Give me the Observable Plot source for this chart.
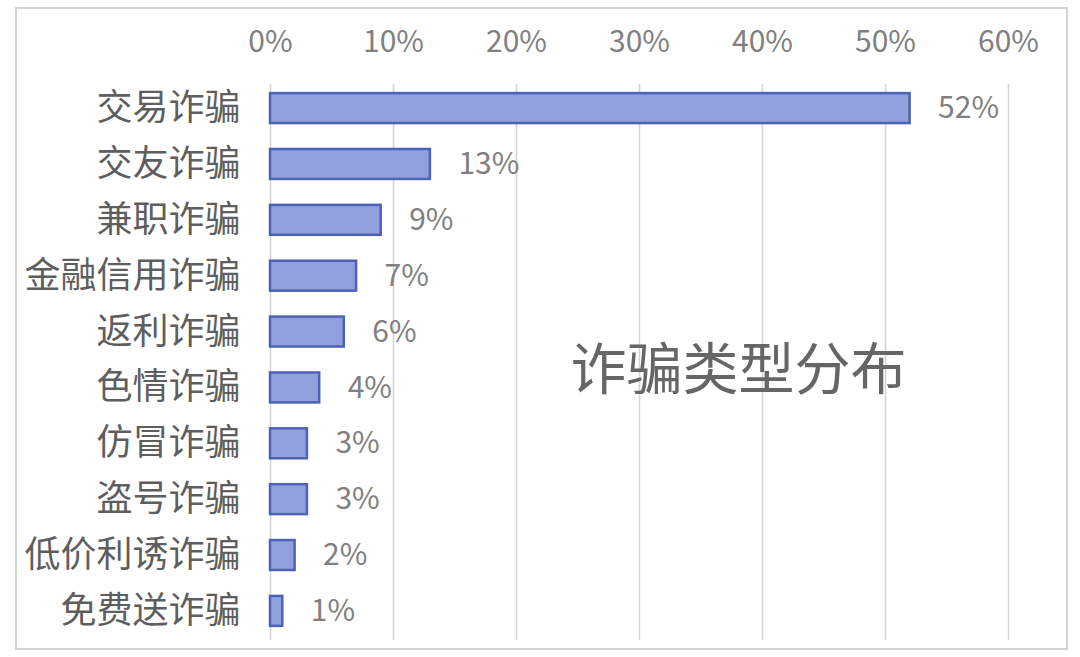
<!DOCTYPE html>
<html>
<head>
<meta charset="utf-8">
<script src="https://cdn.jsdelivr.net/npm/d3@7"></script>
<script src="https://cdn.jsdelivr.net/npm/@observablehq/plot@0.6"></script>
<style>
  html, body { margin: 0; padding: 0; background: #ffffff; }
  #wrap { position: relative; width: 1080px; height: 657px; overflow: hidden; }
  #border { position: absolute; left: 15px; top: 7px; width: 1049px; height: 639px;
            border: 2px solid #d4d4d4; pointer-events: none; }
</style>
</head>
<body>
<div id="wrap"><div id="chart"></div><div id="border"></div></div>
<script>
const categories = ["交易诈骗", "交友诈骗", "兼职诈骗", "金融信用诈骗", "返利诈骗", "色情诈骗", "仿冒诈骗", "盗号诈骗", "低价利诱诈骗", "免费送诈骗"];
const shares = [0.52, 0.13, 0.09, 0.07, 0.06, 0.04, 0.03, 0.03, 0.02, 0.01];
const xTicks = [0, 0.1, 0.2, 0.3, 0.4, 0.5, 0.6];
const chartTitle = "诈骗类型分布";

const data = categories.map((name, i) => ({name, value: shares[i]}));
const pct = d3.format(".0%");

const chart = Plot.plot({
  width: 1080,
  height: 657,
  marginLeft: 270,
  marginRight: 72,
  marginTop: 84,
  marginBottom: 17,
  style: {fontFamily: "'Noto Sans CJK SC', 'Noto Sans', sans-serif", background: "transparent"},
  x: {domain: [0, 0.6]},
  y: {domain: categories, paddingInner: 0.464, paddingOuter: 0.464, insetTop: -16.8, insetBottom: -11.8, round: false},
  marks: [
    Plot.gridX(xTicks, {stroke: "#d4d4d4", strokeOpacity: 1, strokeWidth: 1.6}),
    Plot.axisX({anchor: "top", ticks: xTicks, tickFormat: pct, tickSize: 0, tickPadding: 33,
                fontSize: 30, fill: "#808080", label: null}),
    Plot.axisY({tickSize: 0, tickPadding: 30, fontSize: 36, fill: "#5e5e5e", label: null}),
    Plot.barX(data, {x: "value", y: "name", fill: "#8fa0dc", stroke: "#4d62b6", strokeWidth: 2.5}),
    Plot.text(data, {x: "value", y: "name", text: d => pct(d.value), dx: 28, textAnchor: "start",
                     fontSize: 30, fill: "#808080"}),
    Plot.text([chartTitle], {frameAnchor: "middle", dx: 99, dy: 9, fontSize: 56, fill: "#666666"})
  ]
});
document.getElementById("chart").appendChild(chart);
</script>
</body>
</html>
